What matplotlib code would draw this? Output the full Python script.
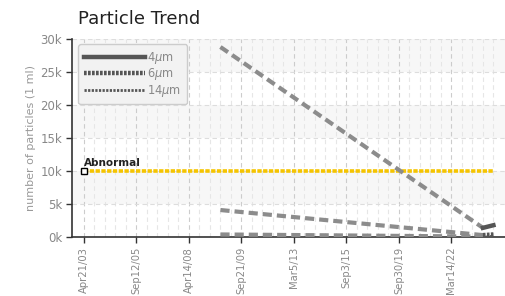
import matplotlib
matplotlib.use('Agg')
import matplotlib.pyplot as plt

plt.rcParams['font.family'] = ['DejaVu Sans']

# category labels, one major label every 5 samples
tick_labels = ['Apr21/03', 'Sep12/05', 'Apr14/08', 'Sep21/09',
               'Mar5/13', 'Sep3/15', 'Sep30/19', 'Mar14/22']
n_samples = 40

# sample index where each measurement was taken
sample_idx = [13, 38, 39]
um4 = [28800, 1400, 1800]
um6 = [4100, 300, 400]
um14 = [400, 80, 120]

abnormal = 10000

fig = plt.figure(figsize=(5.06, 2.96), dpi=100)
ax = fig.add_axes([0.142, 0.199, 0.856, 0.669])

# alternating bands
for lo in [5000, 15000, 25000]:
    ax.axhspan(lo, lo + 5000, color='#f7f7f7', zorder=0, lw=0)

ax.set_xlim(-1.15, 40.1)
ax.set_ylim(0, 30000)

ax.set_xticks(range(0, len(tick_labels) * 5, 5))
ax.set_xticklabels(tick_labels, rotation=90, color='#888888', fontsize=7.2)
ax.set_xticks(range(0, n_samples), minor=True)
ax.set_yticks(range(0, 30001, 5000))
ax.set_yticklabels(['%dk' % (v // 1000) for v in range(0, 30001, 5000)],
                   color='#888888', fontsize=8.5)

ax.grid(axis='y', which='major', color='#dddddd', ls=(0, (4, 3)), lw=0.8)
ax.grid(axis='x', which='major', color='#cccccc', ls=(0, (4, 3)), lw=0.8)
ax.grid(axis='x', which='minor', color='#e6e6e6', ls=(0, (4, 3)), lw=0.8)

ax.tick_params(axis='both', which='major', direction='out', length=4,
               color='#333333', width=1, pad=3)
ax.tick_params(axis='x', which='minor', length=0)
for s in ['top', 'right']:
    ax.spines[s].set_visible(False)
for s in ['left', 'bottom']:
    ax.spines[s].set_color('#333333')
    ax.spines[s].set_linewidth(1.2)

# abnormal threshold
ax.plot([0, n_samples - 1], [abnormal, abnormal], color='#f5c400', lw=2.6,
        ls=(0, (1.2, 0.4)), zorder=3)
ax.plot([0], [abnormal], marker='s', ms=4, mfc='white', mec='black', mew=1,
        zorder=4, clip_on=False)
ax.text(0, abnormal + 500, 'Abnormal', fontsize=7.5, fontweight='bold',
        color='#222222', ha='left', va='bottom')

styles = [
    ('4$\\mu$m', um4, dict(color='#555555', lw=3.2, ls='-')),
    ('6$\\mu$m', um6, dict(color='#555555', lw=3.2, ls=(0, (0.6, 0.3)))),
    ('14$\\mu$m', um14, dict(color='#555555', lw=2.0, ls=(0, (0.8, 0.5)))),
]

handles = []
for name, vals, st in styles:
    for i in range(len(sample_idx) - 1):
        x0, x1 = sample_idx[i], sample_idx[i + 1]
        seg = [vals[i], vals[i + 1]]
        if x1 - x0 > 1:
            # gap in the record: grey dashed connection
            ax.plot([x0, x1], seg, color='#8c8c8c', lw=3, ls=(0, (2.2, 1.2)),
                    zorder=5)
        else:
            ax.plot([x0, x1], seg, zorder=6, **st)
    h, = ax.plot([], [], label=name, **st)
    handles.append(h)

leg = ax.legend(handles=handles, loc='upper left', bbox_to_anchor=(0.01, 0.985),
                handlelength=5.3, handletextpad=0.15, labelspacing=0.02,
                fontsize=8.3, frameon=True, fancybox=True, borderpad=0.5,
                borderaxespad=0.2)
leg.get_frame().set_facecolor('#f2f2f2')
leg.get_frame().set_edgecolor('#cccccc')
leg.get_frame().set_alpha(1)
for t in leg.get_texts():
    t.set_color('#888888')

ax.set_ylabel('number of particles (1 ml)', color='#999999', fontsize=8,
              labelpad=3)

fig.text(0.154, 0.935, 'Particle Trend', fontsize=13, color='#222222',
         ha='left', va='center')

fig.savefig('out.png', dpi=100)
